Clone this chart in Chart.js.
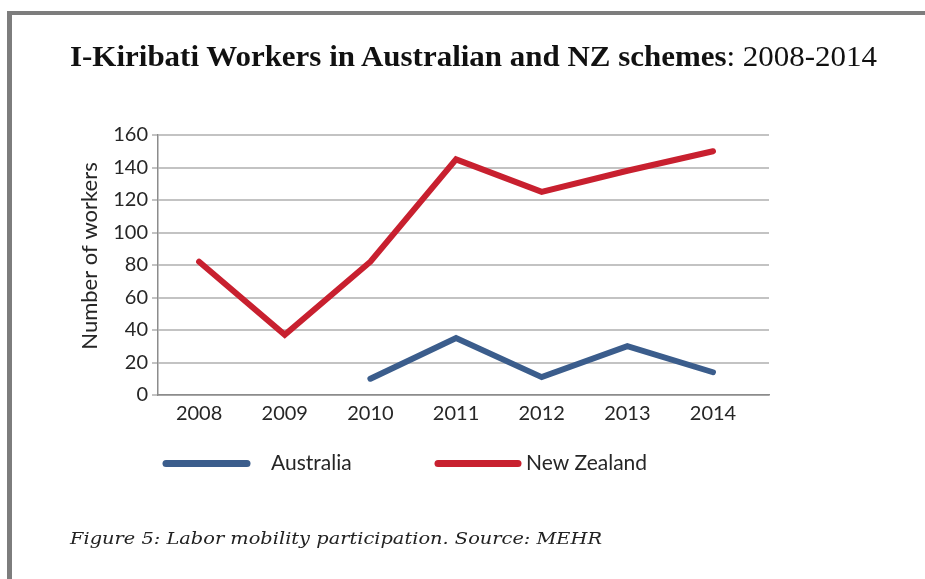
<!DOCTYPE html>
<html>
<head>
<meta charset="utf-8">
<script src="https://cdn.jsdelivr.net/npm/chart.js@4.4.1/dist/chart.umd.min.js"></script>
<style>
  html, body { margin: 0; padding: 0; background: #fff; }
  body { width: 925px; height: 579px; position: relative; overflow: hidden; }
  #frame { position: absolute; left: 7px; top: 11px; right: -20px; bottom: -20px;
           border-top: 4px solid #7d7d7d; border-left: 5px solid #7d7d7d; }
  #title { position: absolute; left: 70px; top: 41px; font-family: "Liberation Serif", serif;
           font-size: 30px; line-height: 30px; color: #111; white-space: nowrap; transform-origin: 0 0; }
  #title b { font-weight: bold; }
  #caption { position: absolute; left: 70px; top: 530px; font-family: "DejaVu Serif", serif;
             font-style: italic; font-size: 17px; line-height: 17px; color: #222;
             white-space: nowrap; transform-origin: 0 0; }
  #c { position: absolute; left: 0; top: 0; width: 925px; height: 579px; }
</style>
</head>
<body>
<div id="frame"></div>
<canvas id="c" width="925" height="579"></canvas>
<div id="title"><b>I-Kiribati Workers in Australian and NZ schemes</b>: 2008-2014</div>
<div id="caption">Figure 5: Labor mobility participation. Source: MEHR</div>
<script>
// Workers per year in each scheme
const years = ['2008', '2009', '2010', '2011', '2012', '2013', '2014'];
const australia = [null, null, 10, 35, 11, 30, 14];
const newZealand = [82, 37, 82, 145, 125, 138, 150];
const yTicks = [0, 20, 40, 60, 80, 100, 120, 140, 160];
const yTitle = 'Number of workers';
const seriesNames = ['Australia', 'New Zealand'];
const seriesColors = ['#3b5d8c', '#c8202f'];

const textColor = '#262626';
const labelFont = 'Lato, "Open Sans", sans-serif';

// stretch a text block horizontally to a set width
function fitWidth(id, target) {
  const el = document.getElementById(id);
  const w = el.getBoundingClientRect().width;
  if (w > 0) el.style.transform = 'scaleX(' + (target / w) + ')';
}
fitWidth('title', 807);
fitWidth('caption', 532);

// rotated y-axis title and the line-swatch legend under the plot
const extras = {
  id: 'extras',
  afterDraw(chart) {
    const { ctx, chartArea } = chart;
    ctx.save();
    ctx.fillStyle = textColor;
    ctx.font = '22px ' + labelFont;
    ctx.textAlign = 'center';
    ctx.textBaseline = 'middle';
    ctx.translate(chartArea.left - 68, chartArea.top + 121);
    ctx.rotate(-Math.PI / 2);
    ctx.fillText(yTitle, 0, 0);
    ctx.restore();

    const slots = [
      { x0: 166, x1: 247, tx: 271 },
      { x0: 438, x1: 518, tx: 526 }
    ];
    const ly = chartArea.bottom + 68.5;
    chart.data.datasets.forEach((ds, i) => {
      const s = slots[i];
      ctx.save();
      ctx.strokeStyle = ds.borderColor;
      ctx.lineWidth = 7;
      ctx.lineCap = 'round';
      ctx.beginPath();
      ctx.moveTo(s.x0, ly);
      ctx.lineTo(s.x1, ly);
      ctx.stroke();
      ctx.fillStyle = textColor;
      ctx.font = '21px ' + labelFont;
      ctx.textAlign = 'left';
      ctx.textBaseline = 'middle';
      ctx.fillText(ds.label, s.tx, ly);
      ctx.restore();
    });
  }
};

const toPoints = vals => years.map((yr, i) => ({ x: Number(yr), y: vals[i] }));

new Chart(document.getElementById('c'), {
  type: 'line',
  data: {
    datasets: [
      { label: seriesNames[0], data: toPoints(australia), borderColor: seriesColors[0] },
      { label: seriesNames[1], data: toPoints(newZealand), borderColor: seriesColors[1] }
    ]
  },
  options: {
    responsive: false,
    animation: false,
    layout: { padding: { left: 0, right: 156, top: 135, bottom: 0 } },
    elements: {
      line: { borderWidth: 6, tension: 0, borderCapStyle: 'round', borderJoinStyle: 'miter', fill: false },
      point: { radius: 0, hoverRadius: 0 }
    },
    plugins: { legend: { display: false }, tooltip: { enabled: false } },
    scales: {
      x: {
        type: 'linear',
        min: 2007.52,
        max: 2014.654,
        afterFit(s) { s.height = 184; },
        afterBuildTicks(s) { s.ticks = years.map(v => ({ value: Number(v) })); },
        grid: { display: false, drawTicks: false },
        border: { display: true, color: '#8c8c8c', width: 1.5 },
        ticks: {
          callback: v => String(v),
          font: { family: labelFont, size: 20 },
          color: textColor,
          padding: 7,
          maxRotation: 0,
          autoSkip: false
        }
      },
      y: {
        min: 0,
        max: 160,
        afterFit(s) { s.width = 158; },
        afterBuildTicks(s) { s.ticks = yTicks.map(v => ({ value: v })); },
        grid: { color: '#c3c3c3', lineWidth: 2, tickLength: 6, drawTicks: true },
        border: { display: true, color: '#8c8c8c', width: 1.5 },
        ticks: { font: { family: labelFont, size: 20 }, color: textColor, padding: 4 }
      }
    }
  },
  plugins: [extras]
});
</script>
</body>
</html>
